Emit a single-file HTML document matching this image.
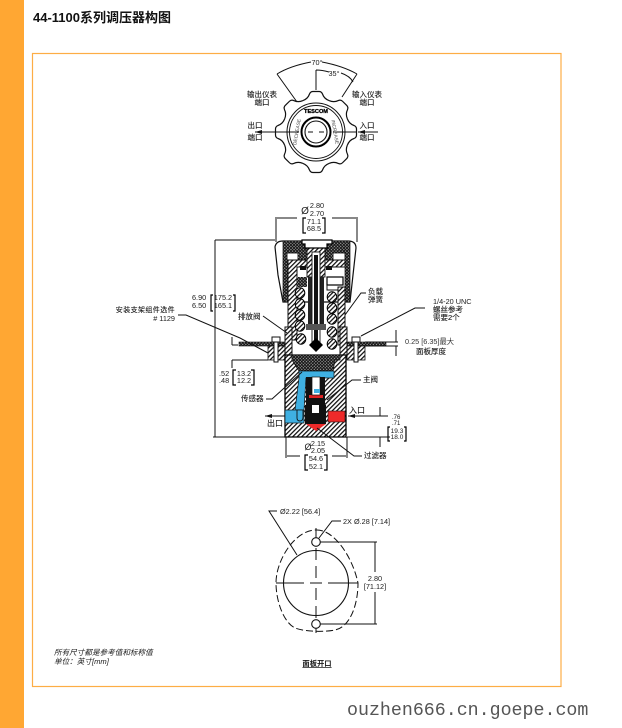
<!DOCTYPE html>
<html><head><meta charset="utf-8">
<style>
html,body{margin:0;padding:0;background:#fff}
body{width:622px;height:728px;overflow:hidden;position:relative}
svg{position:absolute;left:0;top:0}
text{font-family:"Liberation Sans","Noto Sans CJK SC",sans-serif;font-size:7.3px;fill:#1a1a1a}
.z{font-size:7.5px;stroke:#1a1a1a;stroke-width:.12}
.c{text-anchor:middle}
.e{text-anchor:end}
.l{fill:none;stroke:#111;stroke-width:1}
.k{stroke:#000;stroke-width:1.2;fill:none}
</style></head><body>
<svg width="622" height="728" viewBox="0 0 622 728">
<defs>
<pattern id="h" width="3.2" height="3.2" patternUnits="userSpaceOnUse" patternTransform="rotate(45)"><rect width="3.2" height="3.2" fill="#fff"/><rect width="1.25" height="3.2" fill="#111"/></pattern>
<pattern id="d" width="2.2" height="2.2" patternUnits="userSpaceOnUse" patternTransform="rotate(45)"><rect width="2.2" height="2.2" fill="#999"/><rect width="1" height="2.2" fill="#111"/><rect width="2.2" height=".9" fill="#111"/></pattern>
<marker id="a" markerWidth="7" markerHeight="4" refX="7" refY="2" orient="auto-start-reverse" markerUnits="userSpaceOnUse"><path d="M0,0L7,2L0,4z" fill="#111"/></marker>
<path id="s" d="M-13,-31.4C-9,-33 -7.5,-35 -6.5,-38Q-5.5,-40.5 -3,-40.5L3,-40.5Q5.5,-40.5 6.5,-38C7.5,-35 9,-33 13,-31.4" fill="#fff" stroke="#111" stroke-width="1.2"/>
<g id="sp"><ellipse rx="4.8" ry="5.2" fill="url(#h)" stroke="#000" stroke-width="1"/></g>
</defs>

<rect x="0" y="0" width="24" height="728" fill="#FFA733"/>
<rect x="32.5" y="53.5" width="528.5" height="633" fill="none" stroke="#FDAD45" stroke-width="1.2"/>
<text x="33" y="22" style="font-size:13px;font-weight:bold;fill:#111">44-1100系列调压器构图</text>

<!-- knob -->
<g transform="translate(316,132)">
<circle r="33" fill="#fff"/>
<use href="#s"/><use href="#s" transform="rotate(45)"/><use href="#s" transform="rotate(90)"/><use href="#s" transform="rotate(135)"/><use href="#s" transform="rotate(180)"/><use href="#s" transform="rotate(225)"/><use href="#s" transform="rotate(270)"/><use href="#s" transform="rotate(315)"/>
<circle r="29" fill="none" stroke="#111" stroke-width="1"/>
<circle r="26.5" fill="none" stroke="#111" stroke-width=".9"/>
<circle r="14.5" fill="none" stroke="#000" stroke-width="2"/>
<circle r="11" fill="none" stroke="#111" stroke-width="1.1"/>
<path d="M-40,0H-17M-8,0H-3M3,0H8M17,0H41" class="l"/>
<text x="0" y="-19" class="c" style="font-size:5.6px;font-weight:bold;fill:#000;stroke:#000;stroke-width:.3">TESCOM</text>
<text x="-19" y="1.5" class="c" transform="rotate(-80 -19 0)" style="font-size:4.8px;fill:#444">DECREASE</text>
<text x="19" y="1.5" class="c" transform="rotate(80 19 0)" style="font-size:4.8px;fill:#444">INCREASE</text>
</g>
<path class="l" marker-end="url(#a)" d="M276,132H255"/>
<path class="l" marker-end="url(#a)" d="M378,132H358"/>
<path class="l" d="M277,74Q290,66 311,62M322,62Q343,66 357,74M277,74L297,102M357,74L342,97M316,70V90M316,70Q322,70 329,72M341,73Q350,76 353,82"/>
<text x="317" y="65" class="c">70°</text>
<text x="334" y="76" class="c">35°</text>
<text x="262" y="97" class="c z">输出仪表</text><text x="262" y="105" class="c z">端口</text>
<text x="367" y="97" class="c z">输入仪表</text><text x="367" y="105" class="c z">端口</text>
<text x="255" y="128" class="c z">出口</text><text x="255" y="140" class="c z">端口</text>
<text x="367" y="128" class="c z">入口</text><text x="367" y="140" class="c z">端口</text>

<!-- top dims -->
<text x="305" y="214" class="c" style="font-size:10px">Ø</text>
<text x="317" y="208" class="c">2.80</text><text x="317" y="216" class="c">2.70</text>
<text x="314" y="224" class="c">71.1</text><text x="314" y="231" class="c">68.5</text>
<path class="k" d="M306,218H303V233H306M322,218H325V233H322"/>
<path class="l" d="M276,217V242M357,217V242M297,218H277M332,218H356M215,240H275M215,240V437M213,437H286M347,437H390"/>

<!-- cap -->
<path d="M275,247Q276,241 283,241H348Q356,241 356,248L353,275L350,302H283L278,275Z" fill="#fff" stroke="#111" stroke-width="1.2"/>
<path d="M283,241H350V302H345V260H288V302H283Z" fill="url(#d)" stroke="#111" stroke-width=".7"/>
<rect x="287" y="253" width="11" height="7" fill="#fff" stroke="#111" stroke-width=".9"/>
<rect x="333" y="253" width="12" height="7" fill="#fff" stroke="#111" stroke-width=".9"/>
<rect x="298" y="249" width="35" height="11" fill="url(#d)"/>
<!-- bonnet -->
<path d="M288,260H345V267H297V340H288Z" fill="url(#h)" stroke="#111" stroke-width="1"/>
<path d="M338,287H345V345H338Z" fill="url(#h)" stroke="#111" stroke-width="1"/>
<rect x="300" y="266" width="6" height="4" fill="#111"/><rect x="326" y="266" width="6" height="4" fill="#111"/>
<rect x="297" y="277" width="10" height="10" fill="url(#d)"/>
<rect x="327" y="277" width="16" height="8" fill="#fff" stroke="#000" stroke-width="1.2"/>
<path d="M327,285V290H338" class="l"/>
<!-- springs -->
<use href="#sp" x="300" y="293"/><use href="#sp" x="300" y="304"/><use href="#sp" x="300" y="315"/><use href="#sp" x="300" y="326"/><use href="#sp" x="301" y="339"/>
<use href="#sp" x="332" y="297"/><use href="#sp" x="332" y="308"/><use href="#sp" x="332" y="319"/><use href="#sp" x="332" y="332"/><use href="#sp" x="332" y="344"/>
<!-- stem -->
<rect x="307" y="245" width="18" height="32" fill="url(#h)" stroke="#111" stroke-width=".9"/>
<rect x="308" y="277" width="4" height="48" fill="#222"/>
<rect x="320" y="277" width="4" height="48" fill="#222"/>
<rect x="312" y="252" width="8" height="92" fill="#fff" stroke="#111" stroke-width=".9"/>
<rect x="314" y="255" width="4" height="93" fill="#111"/>
<path d="M302,240H332V244H327V248H305V244H302Z" fill="#fff" stroke="#000" stroke-width="1.2"/>
<path d="M309,345L316,338L323,345L316,352Z" fill="#000"/>
<path d="M306,324H326V330H306Z" fill="#555"/>

<!-- flanges + plate -->
<rect x="239" y="342" width="46" height="4" fill="url(#d)" stroke="#111" stroke-width=".6"/>
<rect x="347" y="342" width="39" height="4" fill="url(#d)" stroke="#111" stroke-width=".6"/>
<rect x="268" y="346" width="17" height="14" fill="url(#h)" stroke="#111" stroke-width=".8"/>
<rect x="347" y="346" width="18" height="14" fill="url(#h)" stroke="#111" stroke-width=".8"/>
<rect x="272" y="337" width="8" height="5" fill="#fff" stroke="#111" stroke-width="1"/>
<rect x="352" y="337" width="8" height="5" fill="#fff" stroke="#111" stroke-width="1"/>
<rect x="274" y="342" width="4" height="20" fill="#fff" stroke="#111" stroke-width="1"/>
<rect x="354" y="342" width="4" height="20" fill="#fff" stroke="#111" stroke-width="1"/>
<rect x="285" y="327" width="7" height="30" fill="url(#h)" stroke="#111" stroke-width="1"/>
<rect x="340" y="327" width="7" height="30" fill="url(#h)" stroke="#111" stroke-width="1"/>

<!-- body -->
<path d="M285,355H346V437H285Z" fill="url(#h)" stroke="#000" stroke-width="1.3"/>
<path d="M292,355H340V360H335L333,371H299L292,360Z" fill="url(#d)" stroke="#111" stroke-width=".8"/>
<path d="M299,371H334V378H306L304,410H295L299,378Z" fill="#3FB0E2" stroke="#111" stroke-width=".7"/>
<rect x="285" y="410" width="19" height="13" fill="#3FB0E2" stroke="#111" stroke-width=".7"/>
<path d="M297,410V418Q297,421 300,421Q303,421 303,417V410" fill="none" stroke="#111" stroke-width=".9"/>
<rect x="328" y="411" width="17" height="11" fill="#EE2A2A" stroke="#111" stroke-width=".6"/>
<path d="M306,377H325V405H326L326,424H305L305,405H306Z" fill="#111"/>
<path d="M306,424H326L316,431Z" fill="#EE2A2A"/>
<rect x="309" y="395" width="14" height="3" fill="#d22"/>
<rect x="312" y="377" width="8" height="18" fill="#fff" stroke="#111" stroke-width=".7"/>
<rect x="314" y="389" width="6" height="4" fill="#3FB0E2"/>
<rect x="312" y="405" width="7" height="8" fill="#fff"/>
<path d="M285,416H265" class="l" marker-end="url(#a)"/>
<path d="M388,416H348" class="l" marker-end="url(#a)"/>

<!-- dims left -->
<text x="192" y="300">6.90</text><text x="192" y="308">6.50</text>
<path class="k" d="M213,295H211V311H213M233,295H235V311H233"/>
<text x="223" y="300" class="c">175.2</text><text x="223" y="308" class="c">165.1</text>
<text x="219" y="376">.52</text><text x="219" y="383">.48</text>
<path class="k" d="M236,370H233V385H236M251,370H254V385H251"/>
<text x="244" y="376" class="c">13.2</text><text x="244" y="383" class="c">12.2</text>
<path class="l" d="M232,360H268M232,360V368M232,337V345M232,345H238"/>

<!-- labels -->
<text x="175" y="312" class="e z" style="font-size:7px;letter-spacing:.4px">安装支架组件选件</text>
<text x="175" y="321" class="e"># 1129</text>
<path class="l" d="M178,315H186L240,338L268,353"/>
<text x="238" y="319" class="z">排放阀</text>
<path class="l" d="M263,316L287,333"/>
<text x="368" y="294" class="z">负载</text><text x="368" y="302" class="z">弹簧</text>
<path class="l" d="M366,293H361L345,315"/>
<text x="433" y="304">1/4-20 UNC</text><text x="433" y="312" class="z">螺丝参考</text><text x="433" y="320" class="z">需要2个</text>
<path class="l" d="M425,308H415L361,336"/>
<text x="405" y="344" style="fill:#333">0.25 [6.35]最大</text><text x="416" y="354" class="z">面板厚度</text>
<path class="l" d="M365,342H398M365,346H398M396,330V342M396,346V356"/>
<text x="241" y="401" class="z">传感器</text>
<path class="l" d="M266,399H272L302,372"/>
<text x="363" y="382" class="z">主阀</text>
<path class="l" d="M361,380H352L327,400"/>
<text x="349" y="413" class="z" style="font-size:8px">入口</text>
<text x="267" y="426" class="z" style="font-size:8px">出口</text>
<text x="364" y="458" class="z">过滤器</text>
<path class="l" d="M362,456H354L317,428"/>
<path class="l" d="M380,407V416M380,437V447"/>
<text x="392" y="419" style="font-size:6px">.76</text><text x="392" y="425" style="font-size:6px">.71</text>
<path class="k" d="M390,427H388V441H390M404,427H406V441H404"/>
<text x="397" y="433" class="c" style="font-size:6.5px">19.3</text><text x="397" y="439" class="c" style="font-size:6.5px">18.0</text>

<!-- bottom dims -->
<path class="l" d="M286,437V458M347,437V458M287,456H300M332,456H346"/>
<text x="308" y="450" class="c" style="font-size:9px">Ø</text>
<text x="318" y="446" class="c">2.15</text><text x="318" y="453" class="c">2.05</text>
<path class="k" d="M308,455H305V470H308M324,455H327V470H324"/>
<text x="316" y="461" class="c">54.6</text><text x="316" y="469" class="c">52.1</text>

<!-- panel cutout -->
<circle cx="316" cy="583" r="32.5" fill="none" stroke="#111" stroke-width="1.1"/>
<path d="M316,530C333,529 352,555 358,583C358,605 350,627 335,630C325,632 305,632 295,628C283,622 276,600 276,583C276,560 295,530 316,530Z" fill="none" stroke="#111" stroke-width="1" stroke-dasharray="7 3"/>
<path d="M276,583H304M310,583H322M328,583H358M316,528V540M316,548V560M316,566V578M316,588V600M316,606V618M316,628V633" class="l"/>
<circle cx="316" cy="542" r="4.3" fill="#fff" stroke="#111" stroke-width="1.1"/>
<circle cx="316" cy="624" r="4.3" fill="#fff" stroke="#111" stroke-width="1.1"/>
<path class="l" d="M277,511H269L297,555M341,521H332L319,538M320,542H377M320,624H377M375,542V572M375,592V624"/>
<text x="280" y="514">Ø2.22 [56.4]</text>
<text x="343" y="524">2X Ø.28 [7.14]</text>
<text x="375" y="581" class="c">2.80</text><text x="375" y="589" class="c">[71.12]</text>
<text x="317" y="666" class="c" style="text-decoration:underline;font-weight:bold">面板开口</text>
<text x="54" y="655" style="font-style:italic;font-size:7.6px">所有尺寸都是参考值和标称值</text>
<text x="54" y="664" style="font-style:italic;font-size:7.6px">单位：英寸[mm]</text>

<text x="347" y="715" style='font-family:"Liberation Mono",monospace;font-size:18.3px;fill:#555'>ouzhen666.cn.goepe.com</text>
</svg>
</body></html>
